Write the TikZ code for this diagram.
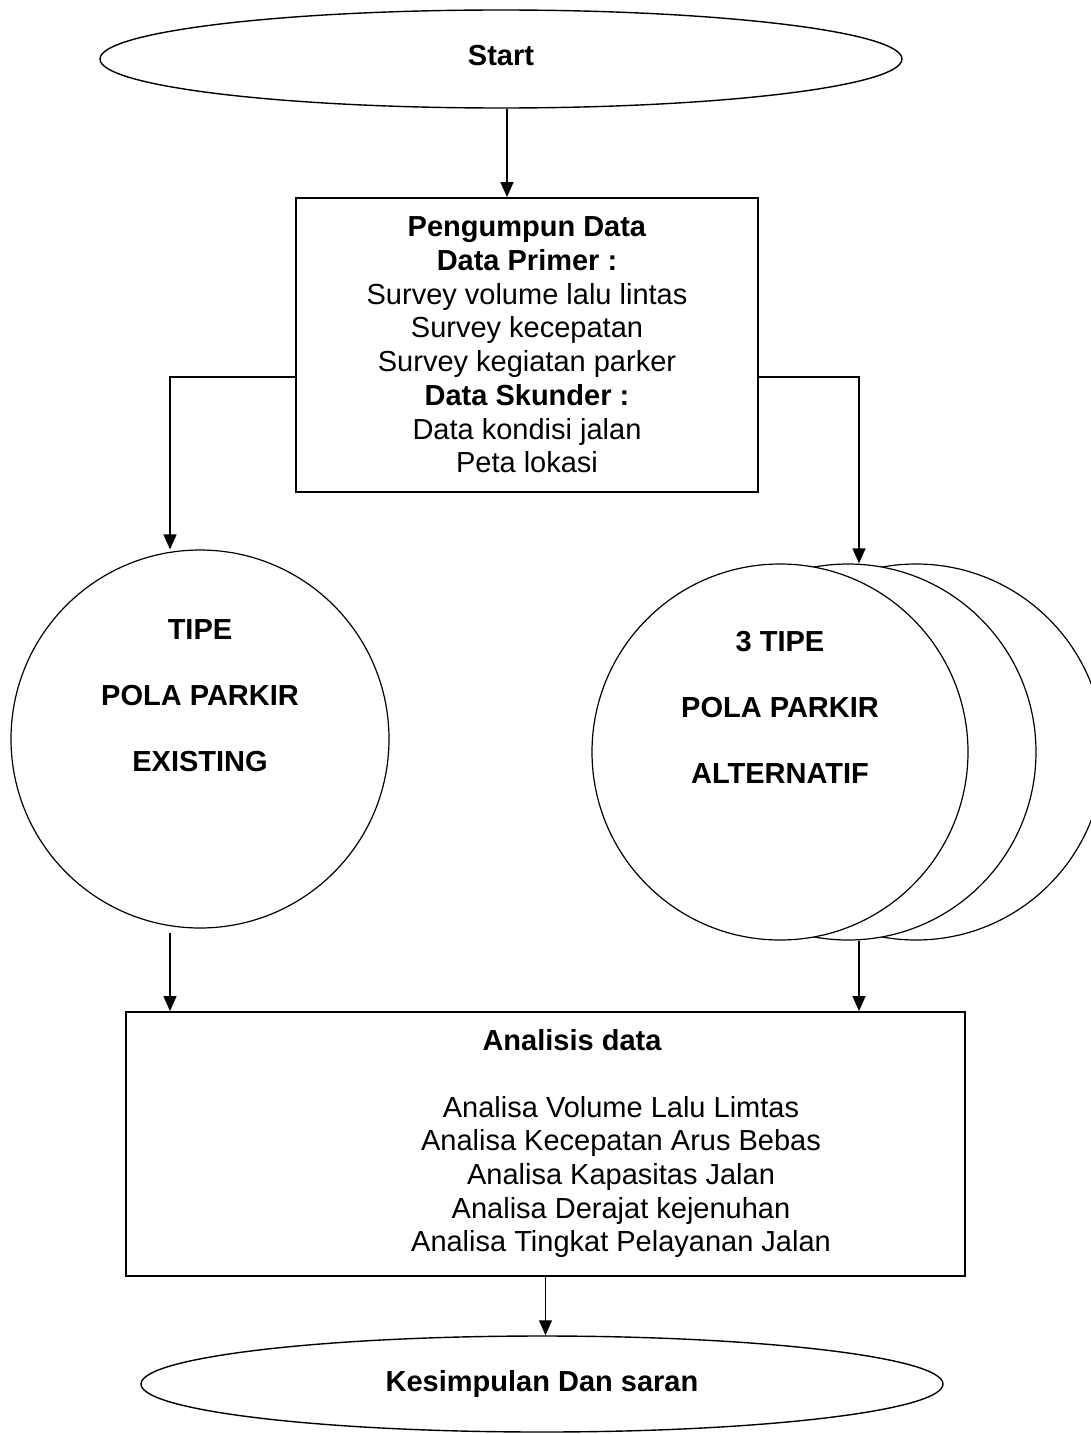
\documentclass[tikz,border=0pt]{standalone}
\usepackage{fontspec}
\setmainfont{Liberation Sans}
\usetikzlibrary{arrows.meta,shapes.geometric,calc}

\begin{document}
\begin{tikzpicture}[x=0.5pt,y=-0.5pt,
    every node/.style={font=\fontsize{14.5}{16.85}\selectfont,align=center},
    bf/.style={font=\fontsize{14.5}{16.85}\selectfont\bfseries},
    box/.style={draw,line width=0.9pt,rectangle,inner sep=0pt},
    oval/.style={draw,line width=0.7pt,ellipse,inner sep=0pt,minimum width=401pt,minimum height=48pt,bf},
    circ/.style={draw,line width=0.6pt,circle,fill=white,inner sep=0pt,minimum size=188pt},
    arr/.style={line width=0.6pt,-{Triangle[length=7.5pt,width=6.5pt]}}]
  \useasboundingbox (0,0) rectangle (1091,1434);

  % start and data collection
  \node[oval,minimum height=49pt] (start) at (501,59) {\raisebox{4pt}{Start}};
  \node[box,minimum width=231pt,minimum height=147pt] (data) at (527,345)
    {\textbf{Pengumpun Data}\\ \textbf{Data Primer :}\\ Survey volume lalu lintas\\
     Survey kecepatan\\ Survey kegiatan parker\\ \textbf{Data Skunder :}\\
     Data kondisi jalan\\ Peta lokasi};

  % parking patterns
  \node[circ,minimum size=189pt] (exist) at (200,739) {};
  \node[bf] (existtxt) at (200,696) {TIPE\\[16.1pt] POLA PARKIR\\[16.1pt] EXISTING};

  \foreach \cx/\nm in {916/back, 848/mid, 780/front} {
    \node[circ] (\nm) at (\cx,752) {};
  }
  \node[bf] (alttxt) at (780,707) {3 TIPE\\[16.1pt] POLA PARKIR\\[16.1pt] ALTERNATIF};

  % analysis and conclusion
  \node[box,minimum width=419.5pt,minimum height=132pt] (ana) at (545.5,1144) {};
  \node[bf] (anatitle) at (572,1040) {Analisis data};
  \node (analist) at (621,1177)
    {Analisa Volume Lalu Limtas\\ Analisa Kecepatan Arus Bebas\\ Analisa Kapasitas Jalan\\
     Analisa Derajat kejenuhan\\ Analisa Tingkat Pelayanan Jalan};
  \node[oval] (stop) at (542,1384) {Kesimpulan Dan saran};

  % connectors
  \draw[arr] ([xshift=3pt]start.south) -- ([xshift=3pt]start.south |- data.north);
  \draw[arr] ([yshift=-16pt]data.west) -| ([xshift=-15pt]exist.north);
  \draw[arr] ([yshift=-16pt]data.east) -| ([xshift=5.5pt]mid.north);
  \draw[arr] ([xshift=-15pt,yshift=-2pt]exist.south) -- ([xshift=-15pt]exist.south |- ana.north);
  \draw[arr] ([xshift=5.5pt]mid.south) -- ([xshift=5.5pt]mid.south |- ana.north);
  \draw[arr] (ana.south) -- (ana.south |- stop.north);
\end{tikzpicture}
\end{document}
